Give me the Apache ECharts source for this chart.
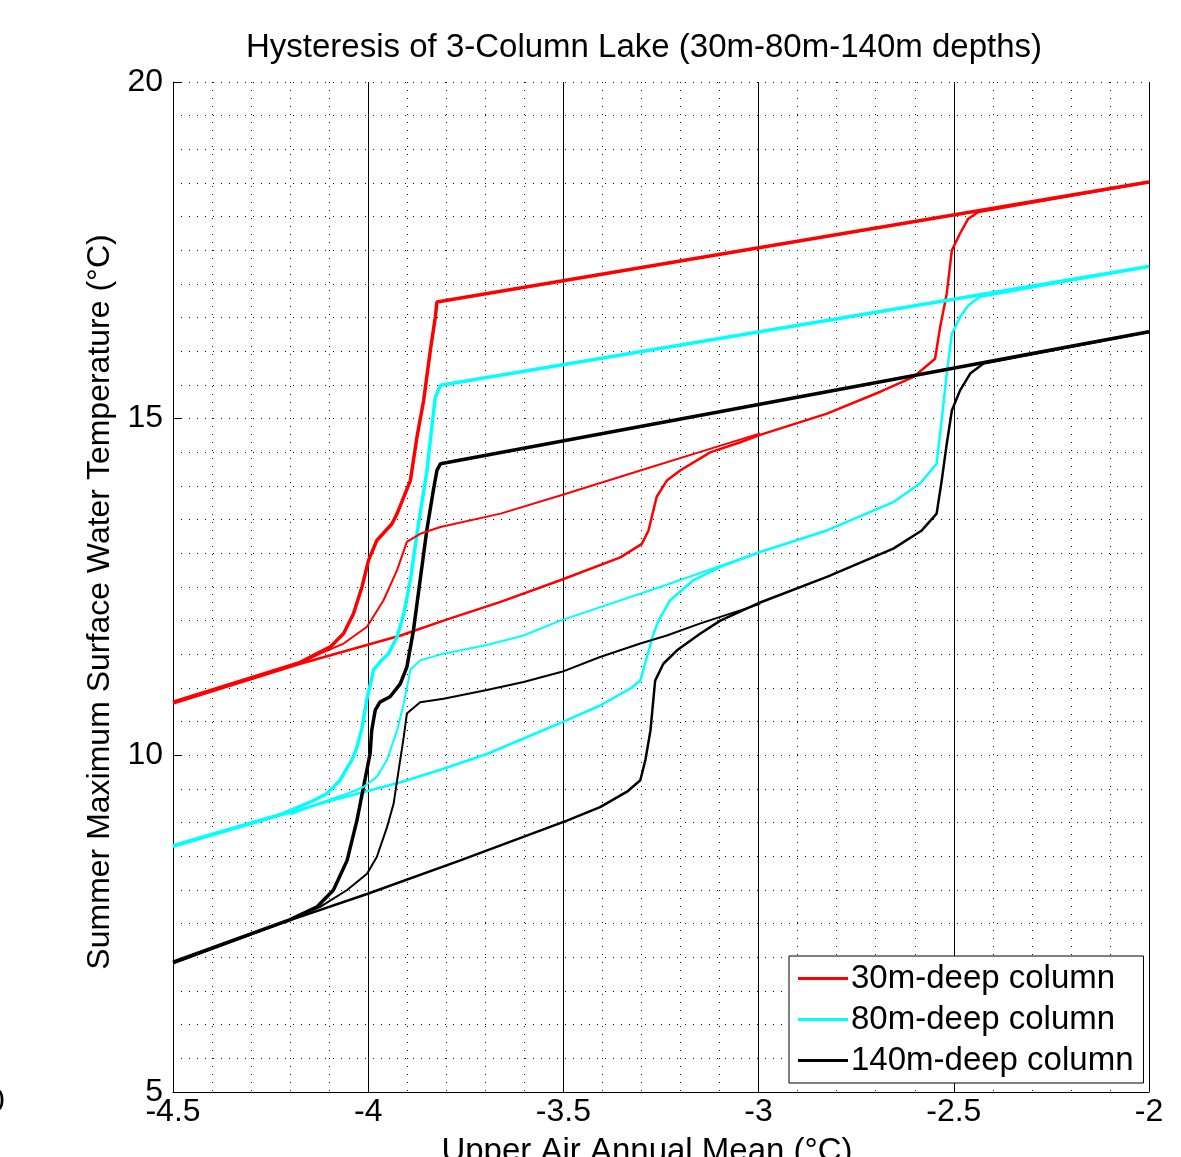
<!DOCTYPE html>
<html>
<head>
<meta charset="utf-8">
<script src="https://cdn.jsdelivr.net/npm/echarts@6/dist/echarts.min.js"></script>
<style>
  html, body { margin: 0; padding: 0; background: #fff; }
  #chart { width: 1181px; height: 1157px; }
</style>
</head>
<body>
<div id="chart"></div>
<script>
// x = upper air annual mean (°C), y = summer max surface water temp (°C)
var xTicks = [-4.5, -4, -3.5, -3, -2.5, -2];
var yTicks = [5, 10, 15, 20];

// 30m column
var red30Warm = [[-4.5,10.77],[-4.174,11.36],[-3.917,11.78],[-3.807,12.0],[-3.661,12.28],[-3.508,12.6],[-3.354,12.94],[-3.299,13.14],[-3.282,13.34],[-3.261,13.84],[-3.235,14.08],[-3.201,14.23],[-3.124,14.5],[-3.047,14.65],[-2.996,14.76],[-2.825,15.075],[-2.688,15.4],[-2.603,15.62],[-2.548,15.89],[-2.535,16.36],[-2.518,16.86],[-2.505,17.5],[-2.484,17.75],[-2.463,17.97],[-2.437,18.07],[-2,18.515]];
var red30Cool = [[-2,18.515],[-3.824,16.733],[-3.828,16.51],[-3.841,16.01],[-3.858,15.27],[-3.875,14.73],[-3.892,14.08],[-3.926,13.59],[-3.939,13.44],[-3.978,13.19],[-3.999,12.9],[-4.016,12.5],[-4.038,12.1],[-4.063,11.81],[-4.097,11.61],[-4.131,11.51],[-4.174,11.38],[-4.5,10.79]];
var red30Mid = [[-4.174,11.37],[-4.123,11.51],[-4.063,11.66],[-4.003,11.91],[-3.961,12.3],[-3.926,12.75],[-3.901,13.17],[-3.867,13.29],[-3.815,13.39],[-3.661,13.59],[-3.508,13.86],[-3.303,14.23],[-3.098,14.6],[-2.996,14.78]];

// 80m column
var cyan80Warm = [[-4.5,8.64],[-4.106,9.31],[-3.917,9.6],[-3.807,9.8],[-3.696,10.02],[-3.602,10.25],[-3.504,10.49],[-3.406,10.74],[-3.329,10.99],[-3.303,11.11],[-3.286,11.46],[-3.269,11.81],[-3.256,12.0],[-3.227,12.3],[-3.167,12.6],[-3.098,12.8],[-2.996,13.02],[-2.825,13.34],[-2.655,13.76],[-2.586,14.04],[-2.544,14.33],[-2.531,14.98],[-2.518,15.67],[-2.505,16.26],[-2.484,16.51],[-2.463,16.68],[-2.433,16.81],[-2,17.26]];
var cyan80Cool = [[-2,17.26],[-3.815,15.495],[-3.828,15.32],[-3.837,14.88],[-3.85,14.2],[-3.867,13.59],[-3.88,13.09],[-3.892,12.6],[-3.909,12.1],[-3.926,11.76],[-3.948,11.51],[-3.969,11.39],[-3.986,11.27],[-4.003,10.85],[-4.016,10.4],[-4.03,10.1],[-4.042,9.93],[-4.072,9.63],[-4.106,9.43],[-4.15,9.3],[-4.22,9.13],[-4.5,8.66]];
var cyan80Mid = [[-4.2,9.12],[-4.12,9.3],[-4.054,9.43],[-4.012,9.53],[-3.978,9.68],[-3.952,9.93],[-3.926,10.37],[-3.909,10.77],[-3.897,11.11],[-3.892,11.27],[-3.867,11.41],[-3.807,11.51],[-3.696,11.64],[-3.602,11.78],[-3.508,12.0],[-3.252,12.5],[-2.996,13.02]];

// 140m column
var black140Warm = [[-4.5,6.91],[-4.217,7.52],[-4.003,7.94],[-3.764,8.44],[-3.491,9.03],[-3.406,9.23],[-3.337,9.46],[-3.303,9.63],[-3.29,9.93],[-3.277,10.37],[-3.265,11.11],[-3.244,11.36],[-3.209,11.56],[-3.149,11.81],[-3.098,12.0],[-2.996,12.27],[-2.825,12.65],[-2.655,13.07],[-2.582,13.34],[-2.544,13.59],[-2.531,14.08],[-2.518,14.63],[-2.505,15.12],[-2.484,15.42],[-2.458,15.67],[-2.424,15.82],[-2,16.29]];
var black140Cool = [[-2,16.29],[-3.815,14.33],[-3.824,14.23],[-3.833,13.94],[-3.85,13.34],[-3.867,12.6],[-3.884,11.86],[-3.901,11.31],[-3.918,11.06],[-3.944,10.87],[-3.97,10.79],[-3.982,10.67],[-3.991,10.37],[-3.995,10.03],[-4.012,9.53],[-4.029,9.03],[-4.054,8.44],[-4.089,8.0],[-4.131,7.75],[-4.2,7.56],[-4.5,6.93]];
var black140Mid = [[-4.2,7.56],[-4.123,7.75],[-4.054,8.0],[-4.003,8.24],[-3.978,8.49],[-3.952,8.93],[-3.935,9.28],[-3.922,9.78],[-3.909,10.27],[-3.901,10.62],[-3.867,10.79],[-3.807,10.84],[-3.696,10.97],[-3.602,11.09],[-3.504,11.24],[-3.406,11.46],[-3.303,11.66],[-3.235,11.78],[-3.149,11.96],[-2.996,12.25]];

var names = ['30m-deep column', '80m-deep column', '140m-deep column'];
var colors = ['#ff0000', '#00ffff', '#000000'];
var paths = [
  [red30Warm, red30Cool, red30Mid],
  [cyan80Warm, cyan80Cool, cyan80Mid],
  [black140Warm, black140Cool, black140Mid]
];
var widths = [2.5, 3.5, 2];

var font = 'Liberation Sans, Arial, Helvetica, sans-serif';
var dots = { color: '#111', width: 1, type: [1, 7] };

var series = [];
paths.forEach(function (group, i) {
  group.forEach(function (pts, j) {
    series.push({
      name: names[i],
      type: 'line',
      data: pts,
      symbol: 'none',
      showSymbol: false,
      silent: true,
      color: colors[i],
      lineStyle: { color: colors[i], width: widths[j] },
      z: 3 + j
    });
  });
});

var chart = echarts.init(document.getElementById('chart'));
chart.setOption({
  animation: false,
  backgroundColor: '#fff',
  title: {
    text: 'Hysteresis of 3-Column Lake (30m-80m-140m depths)',
    left: 639,
    textAlign: 'center',
    top: 26,
    textStyle: { fontFamily: font, fontSize: 33, fontWeight: 'normal', color: '#000' }
  },
  grid: { left: 173, right: 32, top: 82, bottom: 65, containLabel: false, outerBoundsMode: 'none' },
  legend: {
    data: names,
    orient: 'vertical',
    left: 789,
    top: 956,
    icon: 'rect',
    itemWidth: 50,
    itemHeight: 3,
    itemGap: 8,
    padding: [6, 10, 6, 9],
    backgroundColor: '#fff',
    borderColor: '#000',
    borderWidth: 1,
    borderRadius: 0,
    textStyle: { fontFamily: font, fontSize: 33, color: '#000', padding: [0, 0, 0, -2] }
  },
  xAxis: {
    type: 'value',
    min: -4.5,
    max: -2,
    interval: 0.5,
    name: 'Upper Air Annual Mean (°C)',
    nameLocation: 'middle',
    nameGap: 43,
    nameTextStyle: { fontFamily: font, fontSize: 33, color: '#000', padding: [0, 28, 0, 0] },
    axisLine: { lineStyle: { color: '#000', width: 1 } },
    axisTick: { inside: true, length: 9, lineStyle: { color: '#000' } },
    axisLabel: { fontFamily: font, fontSize: 32, color: '#000', margin: 4, formatter: function (v) { return String(v); } },
    splitLine: { show: true, lineStyle: { color: '#000', width: 1 } },
    minorTick: { show: false, splitNumber: 5 },
    minorSplitLine: { show: true, lineStyle: dots }
  },
  yAxis: {
    type: 'value',
    min: 5,
    max: 20,
    interval: 5,
    name: 'Summer Maximum Surface Water Temperature (°C)',
    nameLocation: 'middle',
    nameRotate: 90,
    nameGap: 57,
    nameTextStyle: { fontFamily: font, fontSize: 32, color: '#000', padding: [0, 30, 0, 0] },
    axisLine: { show: true, lineStyle: { color: '#000', width: 1 } },
    axisTick: { show: true, inside: true, length: 9, lineStyle: { color: '#000' } },
    axisLabel: { fontFamily: font, fontSize: 32, color: '#000', margin: 10 },
    splitLine: { show: true, lineStyle: dots },
    minorTick: { show: false, splitNumber: 10 },
    minorSplitLine: { show: true, lineStyle: dots }
  },
  graphic: [{
    type: 'text',
    left: -13,
    top: 1086,
    style: { text: '0', font: '32px ' + font, fill: '#000' }
  }],
  series: series
});
</script>
</body>
</html>
